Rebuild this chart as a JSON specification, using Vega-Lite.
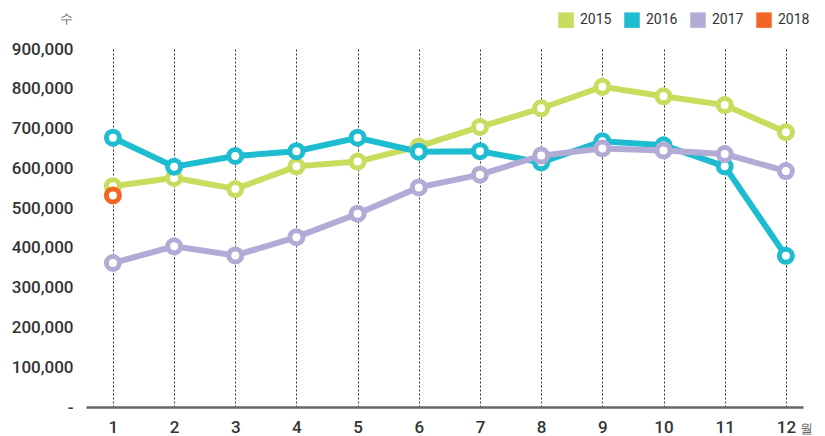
{
  "$schema": "https://vega.github.io/schema/vega-lite/v6.json",
  "width": 717,
  "height": 358,
  "autosize": {"type": "none"},
  "padding": {"left": 86, "top": 49, "right": 22, "bottom": 29},
  "background": "white",
  "config": {
    "view": {"stroke": null},
    "font": "Roboto"
  },
  "data": {
    "values": [
      {"month": 1, "year": "2015", "value": 555000},
      {"month": 2, "year": "2015", "value": 576000},
      {"month": 3, "year": "2015", "value": 548000},
      {"month": 4, "year": "2015", "value": 605000},
      {"month": 5, "year": "2015", "value": 617000},
      {"month": 6, "year": "2015", "value": 655000},
      {"month": 7, "year": "2015", "value": 704000},
      {"month": 8, "year": "2015", "value": 751000},
      {"month": 9, "year": "2015", "value": 805000},
      {"month": 10, "year": "2015", "value": 781000},
      {"month": 11, "year": "2015", "value": 759000},
      {"month": 12, "year": "2015", "value": 691000},
      {"month": 1, "year": "2016", "value": 677000},
      {"month": 2, "year": "2016", "value": 604000},
      {"month": 3, "year": "2016", "value": 631000},
      {"month": 4, "year": "2016", "value": 643000},
      {"month": 5, "year": "2016", "value": 677000},
      {"month": 6, "year": "2016", "value": 642000},
      {"month": 7, "year": "2016", "value": 643000},
      {"month": 8, "year": "2016", "value": 615000},
      {"month": 9, "year": "2016", "value": 668000},
      {"month": 10, "year": "2016", "value": 658000},
      {"month": 11, "year": "2016", "value": 605000},
      {"month": 12, "year": "2016", "value": 380000},
      {"month": 1, "year": "2017", "value": 362000},
      {"month": 2, "year": "2017", "value": 404000},
      {"month": 3, "year": "2017", "value": 381000},
      {"month": 4, "year": "2017", "value": 427000},
      {"month": 5, "year": "2017", "value": 486000},
      {"month": 6, "year": "2017", "value": 552000},
      {"month": 7, "year": "2017", "value": 584000},
      {"month": 8, "year": "2017", "value": 632000},
      {"month": 9, "year": "2017", "value": 650000},
      {"month": 10, "year": "2017", "value": 645000},
      {"month": 11, "year": "2017", "value": 636000},
      {"month": 12, "year": "2017", "value": 593000},
      {"month": 1, "year": "2018", "value": 532000}
    ]
  },
  "encoding": {
    "x": {
      "field": "month",
      "type": "quantitative",
      "scale": {"domain": [0.56, 12.28], "nice": false, "zero": false},
      "axis": {
        "values": [1, 2, 3, 4, 5, 6, 7, 8, 9, 10, 11, 12],
        "format": "d",
        "grid": true,
        "gridColor": "#333333",
        "gridDash": [2, 2],
        "gridWidth": 1,
        "ticks": false,
        "domainColor": "#666666",
        "domainWidth": 2.5,
        "labelFontSize": 17,
        "labelFontWeight": 500,
        "labelColor": "#333333",
        "labelPadding": 12,
        "labelFlush": false,
        "title": "월",
        "titleFontSize": 13,
        "titleFontWeight": "normal",
        "titleColor": "#666666",
        "titleAngle": 0,
        "titleAlign": "center",
        "titleBaseline": "middle",
        "titleX": 720,
        "titleY": 21
      }
    },
    "y": {
      "field": "value",
      "type": "quantitative",
      "scale": {"domain": [0, 900000], "nice": false},
      "axis": {
        "values": [0, 100000, 200000, 300000, 400000, 500000, 600000, 700000, 800000, 900000],
        "labelExpr": "datum.value == 0 ? '-' : format(datum.value, ',')",
        "grid": false,
        "domain": false,
        "ticks": false,
        "labelFontSize": 17,
        "labelFontWeight": 500,
        "labelColor": "#333333",
        "labelPadding": 13,
        "title": "수",
        "titleFontSize": 13,
        "titleFontWeight": "normal",
        "titleColor": "#666666",
        "titleAngle": 0,
        "titleAlign": "center",
        "titleBaseline": "middle",
        "titleX": -20,
        "titleY": -31
      }
    },
    "color": {
      "field": "year",
      "type": "nominal",
      "scale": {
        "domain": ["2015", "2016", "2017", "2018"],
        "range": ["#c8dc5e", "#1dbcd1", "#b3aad6", "#f26522"]
      },
      "legend": {
        "orient": "none",
        "legendX": 472,
        "legendY": -37,
        "direction": "horizontal",
        "title": null,
        "symbolType": "square",
        "symbolSize": 240,
        "symbolStrokeWidth": 0,
        "labelFontSize": 14,
        "labelFontWeight": "normal",
        "labelColor": "#333333",
        "labelOffset": 6,
        "columnPadding": 12,
        "encode": {
          "symbols": {
            "update": {
              "fill": {"scale": "color", "field": "value"},
              "stroke": {"value": "transparent"},
              "opacity": {"value": 1}
            }
          }
        }
      }
    }
  },
  "layer": [
    {
      "mark": {"type": "line", "strokeWidth": 6}
    },
    {
      "mark": {
        "type": "point",
        "filled": false,
        "fill": "white",
        "opacity": 1,
        "strokeWidth": 5,
        "size": 169
      }
    }
  ]
}
